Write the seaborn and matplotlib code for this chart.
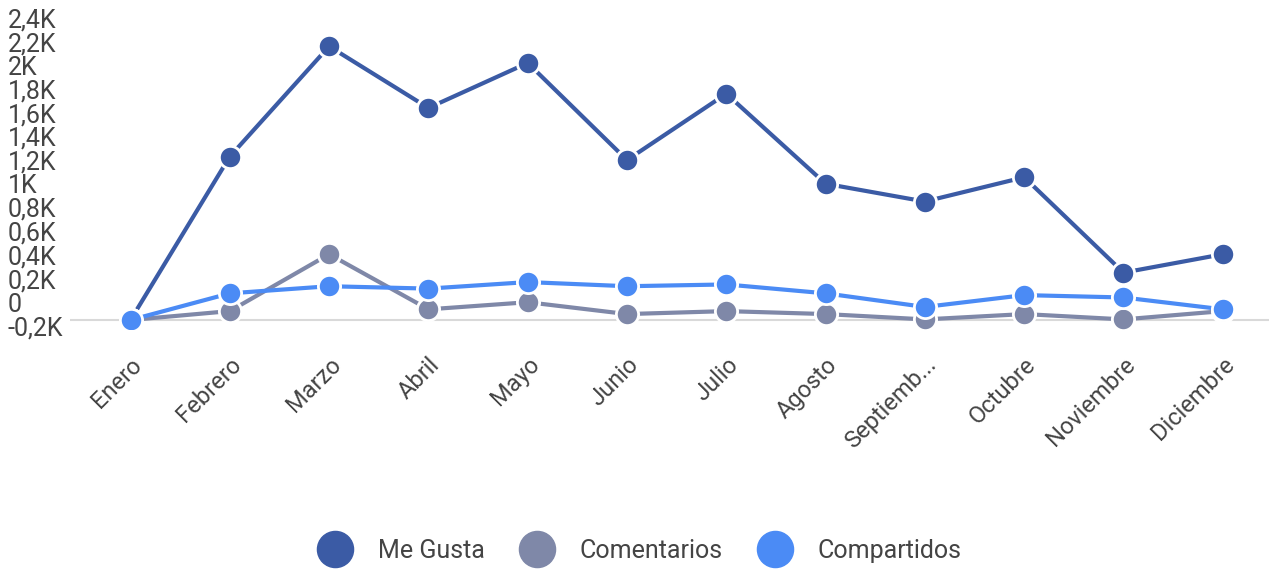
import pandas as pd
import matplotlib
matplotlib.use("Agg")
import matplotlib.pyplot as plt
import seaborn as sns

meses = ["Enero", "Febrero", "Marzo", "Abril", "Mayo", "Junio", "Julio",
         "Agosto", "Septiemb...", "Octubre", "Noviembre", "Diciembre"]
me_gusta = [-150, 1230, 2160, 1640, 2020, 1200, 1760, 1000, 850, 1055, 250, 405]
comentarios = [-150, -75, 405, -60, 0, -100, -75, -100, -145, -100, -145, -75]
compartidos = [-150, 75, 135, 115, 170, 135, 150, 75, -40, 60, 40, -60]
y_ticks = [-200, 0, 200, 400, 600, 800, 1000, 1200, 1400, 1600, 1800, 2000, 2200, 2400]
y_labels = ["-0,2K", "0", "0,2K", "0,4K", "0,6K", "0,8K", "1K", "1,2K",
            "1,4K", "1,6K", "1,8K", "2K", "2,2K", "2,4K"]
series = ["Me Gusta", "Comentarios", "Compartidos"]
colores = ["#3b5ba5", "#7f88a8", "#4b8bf5"]
baseline = -150

df = pd.DataFrame({"x": list(range(len(meses))) * 3,
                   "valor": me_gusta + comentarios + compartidos,
                   "serie": [s for s in series for _ in meses]})

sns.set_style("white")
plt.rcParams["font.family"] = ["Roboto", "DejaVu Sans"]

fig = plt.figure(figsize=(12.72, 5.71), dpi=100)
ax = fig.add_axes([0.055, 0.423, 0.943, 0.556])

ax.axhline(baseline, color="#d9d9d9", lw=1.5, zorder=0)
sns.lineplot(data=df, x="x", y="valor", hue="serie", hue_order=series,
             palette=colores, marker="o", markersize=16, markeredgecolor="white",
             markeredgewidth=2, linewidth=3, ax=ax, legend=False)

ax.set_xlim(-0.61, 11.47)
ax.set_ylim(-230, 2450)
ax.set_xticks(range(len(meses)))
ax.set_xticklabels(meses, rotation=45, ha="right", rotation_mode="anchor",
                   fontsize=17, color="#444444")
ax.tick_params(axis="x", pad=17, length=0)
ax.set_yticks(y_ticks)
ax.set_yticklabels(y_labels, fontsize=18, color="#444444", ha="left")
ax.tick_params(axis="y", pad=45, length=0)
ax.set_xlabel("")
ax.set_ylabel("")
for s in ax.spines.values():
    s.set_visible(False)

handles = [plt.Line2D([], [], marker="o", ls="", color=c, markersize=26) for c in colores]
fig.legend(handles, series, loc="lower center", ncol=3, frameon=False,
           fontsize=18, bbox_to_anchor=(0.5, -0.025), handletextpad=0.7,
           columnspacing=1.1, labelcolor="#444444")

fig.savefig("out.png", dpi=100)
